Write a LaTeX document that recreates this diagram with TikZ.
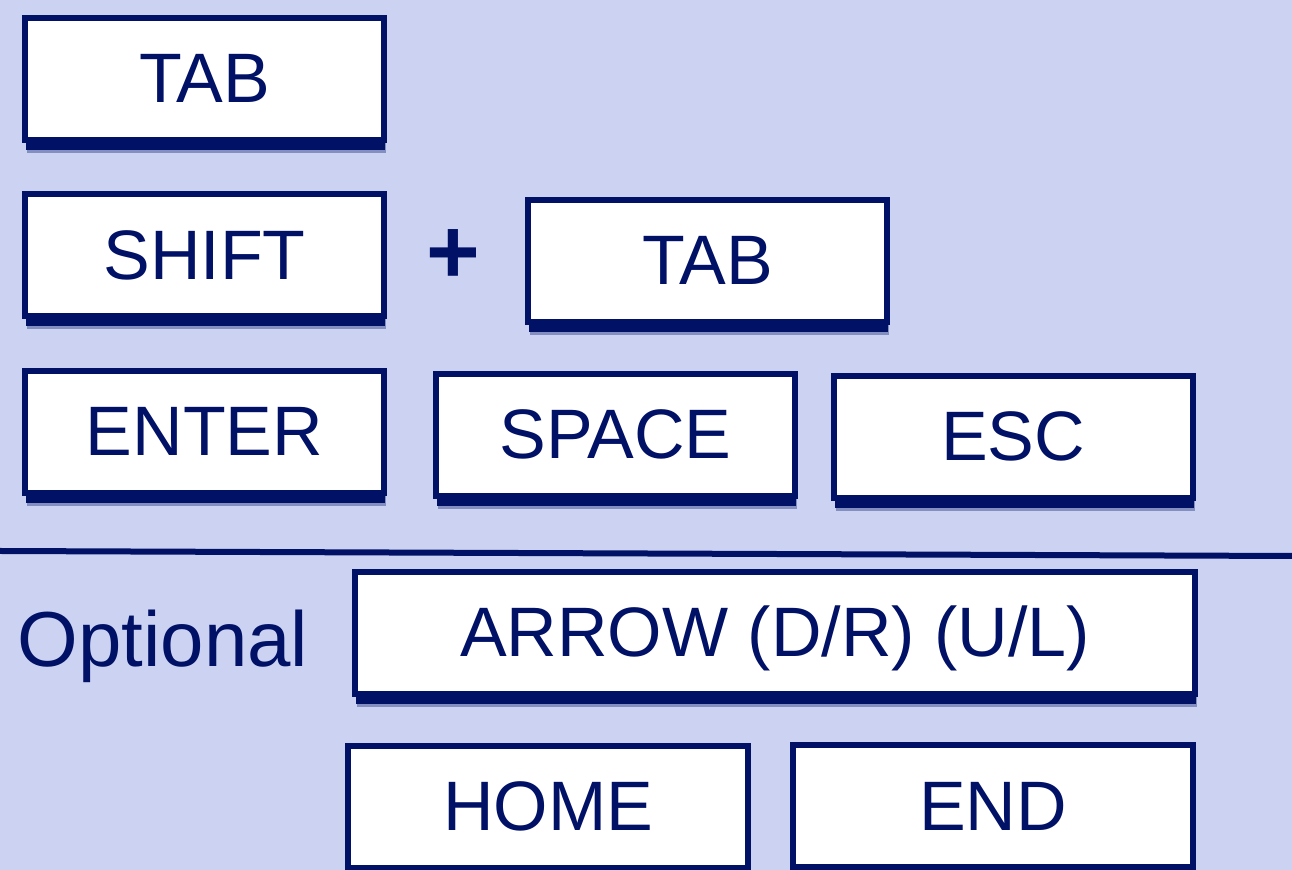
\documentclass[tikz,border=0pt]{standalone}
\usepackage{fontspec}
\setmainfont{Liberation Sans}
\usetikzlibrary{shadows}
\definecolor{bgblue}{RGB}{204,211,242}
\definecolor{keyblue}{RGB}{0,17,102}
\tikzstyle{key} = [rectangle, draw=keyblue, line width=3pt, fill=white,
    text=keyblue, font=\fontsize{35}{42}\selectfont, inner sep=0pt,
    minimum width=179.5pt, minimum height=61pt, text height=24pt, text depth=0pt,
    drop shadow={shadow xshift=1.2pt, shadow yshift=-6.5pt, fill=keyblue, opacity=.35},
    drop shadow={shadow xshift=0.5pt, shadow yshift=-5pt, fill=keyblue, opacity=1}]
\tikzstyle{widekey} = [key, minimum width=200pt]
\tikzstyle{label} = [text=keyblue, inner sep=0pt]

\begin{document}
\begin{tikzpicture}[x=0.5pt,y=-0.5pt]

  \fill[bgblue] (0,0) rectangle (1292,870);
  \useasboundingbox (0,0) rectangle (1292,870);

  \node[key]     (tab)    at (204.5,79)    {TAB};
  \node[key]     (shift)  at (204.5,255.5) {SHIFT};
  \node[label, anchor=base, font=\fontsize{46}{54}\selectfont\bfseries]
                 (plus)   at (453,284)     {+};
  \node[key]     (tab2)   at (707.5,261)   {TAB};
  \node[key]     (enter)  at (204.5,432)   {ENTER};
  \node[key]     (space)  at (615.5,435)   {SPACE};
  \node[key]     (esc)    at (1013,437)    {ESC};

  \coordinate (rule west) at (0,551);
  \coordinate (rule east) at (1292,556);
  \draw[keyblue, line width=3pt] (rule west) -- (rule east);

  \node[label, anchor=base, font=\fontsize{39}{46}\selectfont]
                 (optional) at (163,667)   {Optional};
  \node[key, minimum width=420pt]
                 (arrow)  at (775,633)     {ARROW (D/R) (U/L)};
  \node[widekey] (home)   at (548,807)     {HOME};
  \node[widekey] (endkey) at (993,806.5)   {END};
\end{tikzpicture}
\end{document}
